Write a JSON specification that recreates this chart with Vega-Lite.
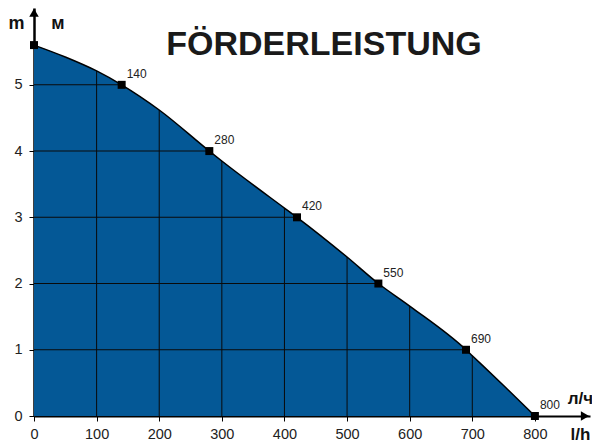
{
  "$schema": "https://vega.github.io/schema/vega-lite/v6.json",
  "width": 556,
  "height": 408,
  "autosize": {"type": "none"},
  "padding": {"left": 34, "top": 8, "right": 2, "bottom": 28},
  "background": "white",
  "title": {
    "text": "FÖRDERLEISTUNG",
    "font": "Liberation Sans",
    "fontSize": 34,
    "fontWeight": "bold",
    "color": "#1a1a1a",
    "anchor": "middle",
    "frame": "group",
    "offset": -54,
    "dx": 12
  },
  "config": {
    "view": {"stroke": null},
    "axis": {
      "labelFont": "Liberation Sans",
      "labelFontSize": 14.5,
      "labelColor": "#222222",
      "tickColor": "#000000",
      "tickSize": 5,
      "tickWidth": 1,
      "domainColor": "#000000",
      "grid": false,
      "labelFlush": false,
      "labelOverlap": false,
      "titleFont": "Liberation Sans",
      "titleFontWeight": "bold",
      "titleColor": "#111111"
    }
  },
  "datasets": {
    "curve": [
      {"x": 0, "y": 5.6},
      {"x": 50, "y": 5.42},
      {"x": 100, "y": 5.21},
      {"x": 140, "y": 5.0},
      {"x": 200, "y": 4.62},
      {"x": 280, "y": 4.0},
      {"x": 300, "y": 3.85},
      {"x": 400, "y": 3.14},
      {"x": 420, "y": 3.0},
      {"x": 500, "y": 2.4},
      {"x": 550, "y": 2.0},
      {"x": 600, "y": 1.66},
      {"x": 690, "y": 1.0},
      {"x": 700, "y": 0.91},
      {"x": 750, "y": 0.46},
      {"x": 800, "y": 0.0}
    ],
    "points": [
      {"x": 0, "y": 5.6, "label": ""},
      {"x": 140, "y": 5, "label": "140"},
      {"x": 280, "y": 4, "label": "280"},
      {"x": 420, "y": 3, "label": "420"},
      {"x": 550, "y": 2, "label": "550"},
      {"x": 690, "y": 1, "label": "690"},
      {"x": 800, "y": 0, "label": "800"}
    ],
    "vgrid": [
      {"x": 100, "y": 5.21},
      {"x": 200, "y": 4.62},
      {"x": 300, "y": 3.85},
      {"x": 400, "y": 3.14},
      {"x": 500, "y": 2.4},
      {"x": 600, "y": 1.66},
      {"x": 700, "y": 0.91}
    ],
    "hgrid": [
      {"y": 1, "x": 690},
      {"y": 2, "x": 550},
      {"y": 3, "x": 420},
      {"y": 4, "x": 280},
      {"y": 5, "x": 140}
    ],
    "arrows": [
      {"x": 0, "y": 6.09, "dir": "up"},
      {"x": 880, "y": 0, "dir": "right"}
    ]
  },
  "encoding": {
    "x": {
      "field": "x",
      "type": "quantitative",
      "scale": {"domain": [0, 888], "nice": false, "zero": false, "padding": 0},
      "axis": {
        "values": [0, 100, 200, 300, 400, 500, 600, 700, 800],
        "domainWidth": 2,
        "labelPadding": 6,
        "title": ["л/ч", "l/h"],
        "titleX": 546,
        "titleY": -13,
        "titleAlign": "center",
        "titleBaseline": "alphabetic",
        "titleFontSize": 17,
        "titleLineHeight": 36
      }
    },
    "y": {
      "field": "y",
      "type": "quantitative",
      "scale": {"domain": [0, 6.16], "nice": false, "zero": false, "padding": 0},
      "axis": {
        "values": [0, 1, 2, 3, 4, 5],
        "domainWidth": 2.5,
        "labelPadding": 7,
        "title": "m\u2002\u2002 \u2009м",
        "titleAngle": 0,
        "titleX": 2,
        "titleY": 20,
        "titleAlign": "center",
        "titleBaseline": "alphabetic",
        "titleFontSize": 18
      }
    }
  },
  "layer": [
    {
      "data": {"name": "curve"},
      "mark": {"type": "area", "interpolate": "monotone", "color": "#045896"}
    },
    {
      "data": {"name": "vgrid"},
      "mark": {"type": "bar", "orient": "vertical", "color": "#0a0a0a", "size": 1}
    },
    {
      "data": {"name": "hgrid"},
      "mark": {"type": "bar", "orient": "horizontal", "color": "#0a0a0a", "size": 1}
    },
    {
      "data": {"name": "curve"},
      "mark": {"type": "line", "interpolate": "monotone", "color": "#000000", "strokeWidth": 1.5}
    },
    {
      "data": {"name": "points"},
      "mark": {"type": "point", "shape": "square", "filled": true, "color": "#000000", "size": 64, "opacity": 1}
    },
    {
      "data": {"name": "points"},
      "transform": [{"filter": "datum.label != ''"}],
      "mark": {"type": "text", "align": "left", "baseline": "alphabetic", "dx": 5, "dy": -7, "font": "Liberation Sans", "fontSize": 12, "color": "#222222"},
      "encoding": {
        "text": {"field": "label"}
      }
    },
    {
      "data": {"name": "arrows"},
      "transform": [{"filter": "datum.dir == 'up'"}],
      "mark": {"type": "point", "shape": "triangle-up", "filled": true, "color": "#000000", "size": 90, "opacity": 1}
    },
    {
      "data": {"name": "arrows"},
      "transform": [{"filter": "datum.dir == 'right'"}],
      "mark": {"type": "point", "shape": "triangle-right", "filled": true, "color": "#000000", "size": 90, "opacity": 1}
    }
  ]
}
